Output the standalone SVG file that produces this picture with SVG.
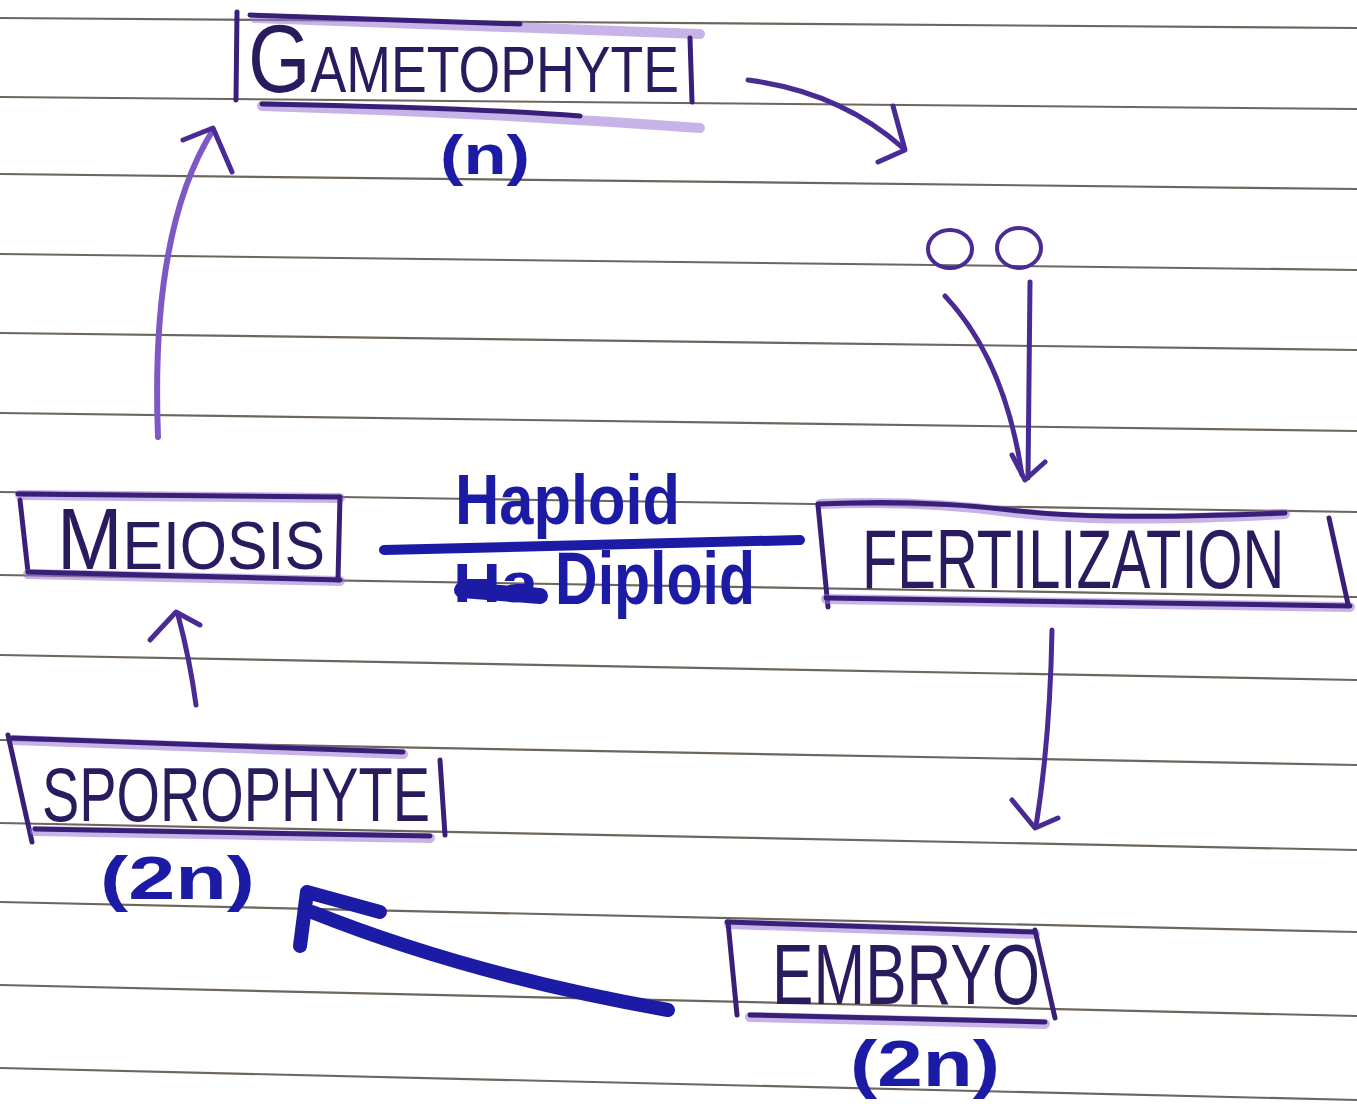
<svg xmlns="http://www.w3.org/2000/svg" width="1357" height="1104" viewBox="0 0 1357 1104">
<style>
.rule{stroke:#6e655c;stroke-width:2.2;fill:none}
.edge{stroke:#3a1f78;stroke-width:5;fill:none;stroke-linecap:round;stroke-linejoin:round}
.smear{stroke:#9b74d6;stroke-width:10;fill:none;stroke-linecap:round;opacity:0.55}
.lbl{font-family:"Liberation Sans",Arial,sans-serif;fill:#2a1a5e}
.blue{font-family:"Liberation Sans",Arial,sans-serif;font-weight:bold;fill:#1b1ba6}
.pen{stroke:#4a2a94;stroke-width:5;fill:none;stroke-linecap:round;stroke-linejoin:round}
.pale{stroke:#7e58c4;stroke-width:6;fill:none;stroke-linecap:round}
.ink{stroke:#1b1ba6;fill:none;stroke-linecap:round;stroke-linejoin:round}
</style>
<rect width="1357" height="1104" fill="#ffffff"/>
<g id="paper">
<path class="rule" d="M0,18 L1357,28"/>
<path class="rule" d="M0,97 L1357,109"/>
<path class="rule" d="M0,174 L1357,189"/>
<path class="rule" d="M0,254 L1357,270"/>
<path class="rule" d="M0,333 L1357,350"/>
<path class="rule" d="M0,413 L1357,431"/>
<path class="rule" d="M0,492 L1357,512"/>
<path class="rule" d="M0,575 L1357,597"/>
<path class="rule" d="M0,655 L1357,680"/>
<path class="rule" d="M0,740 L1357,765"/>
<path class="rule" d="M0,823 L1357,850"/>
<path class="rule" d="M0,902 L1357,932"/>
<path class="rule" d="M0,985 L1357,1016"/>
<path class="rule" d="M0,1068 L1357,1100"/>
</g>
<g id="node-gametophyte">
<path class="smear" d="M255,18 L700,34"/>
<path class="edge" d="M250,15 L520,24"/>
<path class="edge" d="M237,12 L236,100"/>
<path class="edge" d="M690,38 L692,102"/>
<path class="smear" d="M262,106 Q480,112 700,128"/>
<path class="edge" d="M262,104 Q480,108 580,116"/>
<text class="lbl" transform="translate(248,92) scale(0.838,1)" x="0" y="0"><tspan font-size="96">G</tspan><tspan font-size="64">AMETOPHYTE</tspan></text>
<text class="blue" x="440" y="174" font-size="56" textLength="90" lengthAdjust="spacingAndGlyphs">(n)</text>
</g>
<g id="gametes">
<ellipse cx="950" cy="249" rx="22" ry="19" class="pen" style="stroke-width:4"/>
<ellipse cx="1019" cy="248" rx="22" ry="20" class="pen" style="stroke-width:4"/>
</g>
<g id="node-fertilization">
<path class="smear" d="M820,504 Q920,500 1010,512 T1285,514"/>
<path class="edge" d="M818,504 Q920,499 1010,510 T1285,513"/>
<path class="edge" d="M818,505 L828,607"/>
<path class="smear" d="M826,599 L1350,607"/>
<path class="edge" d="M826,598 L1350,606"/>
<path class="edge" d="M1329,518 L1348,604"/>
<text class="lbl" transform="translate(862,588) scale(0.689,1)" x="0" y="0" font-size="84">FERTILIZATION</text>
</g>
<g id="label-ploidy">
<text class="blue" x="455" y="524" font-size="70" textLength="225" lengthAdjust="spacingAndGlyphs">Haploid</text>
<path class="ink" stroke-width="10" d="M384,550 L800,540"/>
<text class="blue" x="453" y="602" font-size="56" textLength="85" lengthAdjust="spacingAndGlyphs">Ha</text>
<path class="ink" stroke-width="16" d="M462,590 L540,596"/>
<text class="blue" x="555" y="604" font-size="74" textLength="200" lengthAdjust="spacingAndGlyphs">Diploid</text>
</g>
<g id="node-meiosis">
<path class="smear" d="M20,495 L340,498"/>
<path class="edge" d="M18,494 L340,497"/>
<path class="edge" d="M20,500 L28,572"/>
<path class="smear" d="M28,574 L340,581"/>
<path class="edge" d="M28,572 L340,580"/>
<path class="edge" d="M340,497 L338,580"/>
<text class="lbl" x="57" y="569" textLength="268" lengthAdjust="spacingAndGlyphs"><tspan font-size="88">M</tspan><tspan font-size="68">EIOSIS</tspan></text>
</g>
<g id="node-sporophyte">
<path class="smear" d="M14,740 L403,754"/>
<path class="edge" d="M12,738 L403,752"/>
<path class="edge" d="M8,735 L32,842"/>
<path class="smear" d="M35,831 L430,838"/>
<path class="edge" d="M35,829 L430,836"/>
<path class="edge" d="M440,760 L445,835"/>
<text class="lbl" x="42" y="821" font-size="76" textLength="388" lengthAdjust="spacingAndGlyphs">SPOROPHYTE</text>
<text class="blue" x="100" y="899" font-size="62" textLength="155" lengthAdjust="spacingAndGlyphs">(2n)</text>
</g>
<g id="node-embryo">
<path class="smear" d="M729,924 L1035,934"/>
<path class="edge" d="M727,922 L1035,932"/>
<path class="edge" d="M728,922 L737,1015"/>
<path class="edge" d="M1035,930 L1055,1018"/>
<path class="smear" d="M750,1017 L1045,1024"/>
<path class="edge" d="M750,1015 L1045,1022"/>
<text class="lbl" x="772" y="1004" font-size="86" textLength="268" lengthAdjust="spacingAndGlyphs">EMBRYO</text>
<text class="blue" x="850" y="1086" font-size="64" textLength="150" lengthAdjust="spacingAndGlyphs">(2n)</text>
</g>
<g id="connectors">
<path class="pen" d="M748,80 Q840,92 903,148"/>
<path class="pen" d="M893,106 L905,150 L878,162"/>
<path class="pen" d="M945,296 Q1005,360 1022,475"/>
<path class="pen" d="M1030,282 L1028,478"/>
<path class="pen" d="M1012,455 L1025,480 L1045,462"/>
<path class="pen" d="M1052,630 Q1050,740 1036,826"/>
<path class="pen" d="M1012,800 L1035,828 L1058,818"/>
<path class="ink" stroke-width="14" d="M668,1010 Q470,975 312,912"/>
<path class="ink" stroke-width="14" d="M300,946 L307,892 L380,912"/>
<path class="pen" d="M196,705 Q190,660 178,615"/>
<path class="pen" d="M150,640 L176,612 L200,625"/>
<path class="pale" d="M158,437 Q150,230 213,130"/>
<path class="pen" d="M183,140 L213,128 L232,172"/>
</g>
</svg>
